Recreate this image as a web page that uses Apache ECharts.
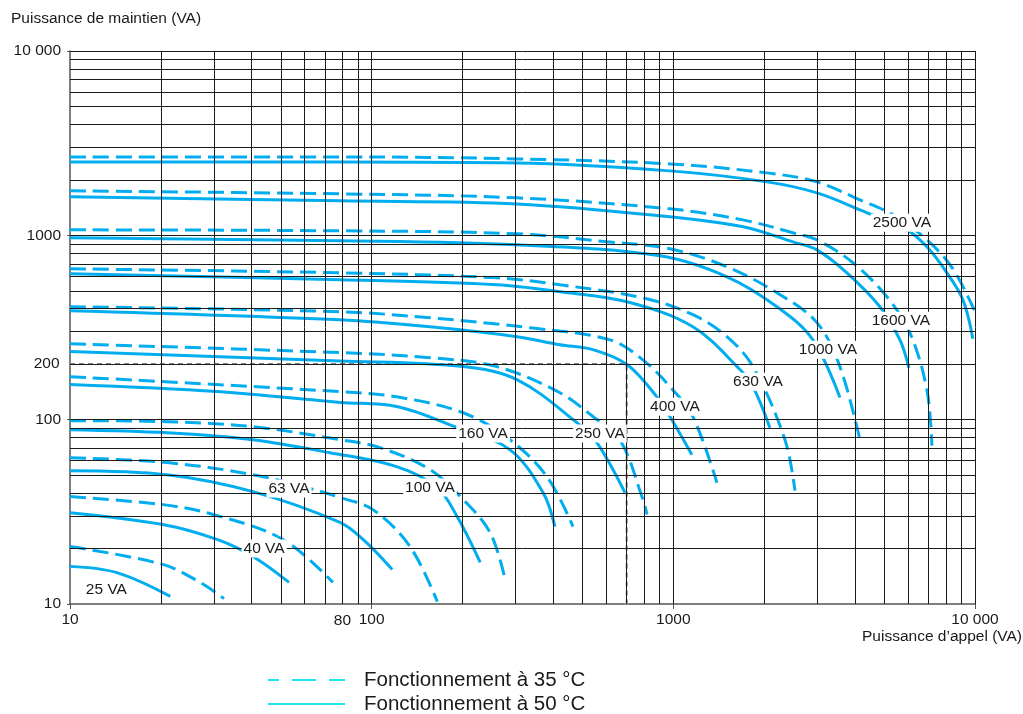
<!DOCTYPE html>
<html>
<head>
<meta charset="utf-8">
<title>Puissance de maintien / puissance d'appel</title>
<script src="https://cdn.jsdelivr.net/npm/echarts@6/dist/echarts.min.js"></script>
<style>
  html, body { margin: 0; padding: 0; background: #fff; }
  #chart { width: 1023px; height: 714px; }
</style>
</head>
<body>
<div id="chart"></div>
<script>
// points: [puissance d'appel (VA), puissance de maintien (VA)]
const va25_35 = [[10, 20.5], [20.3, 16.4], [27, 13.1], [32.4, 10.7]];
const va25_50 = [[10, 16], [14.3, 14.8], [21.5, 11]];
const va40_35 = [[10, 38.3], [20.3, 34.6], [29.8, 30.6], [50.8, 22.4], [74.4, 13.1]];
const va40_50 = [[10, 31.3], [20.3, 27], [30.7, 22.4], [40.4, 18.1], [53.2, 13.1]];
const va63_35 = [[10, 62.2], [21, 58.5], [40.4, 50.3], [62.5, 42.3], [78.5, 37.8], [101, 32.5], [134, 20.5], [165, 10.3]];
const va63_50 = [[10, 52.9], [21, 50.3], [40.4, 40.7], [78.5, 27.7], [93.6, 22.4], [117, 15.4]];
const va100_35 = [[10, 98.8], [21, 97.5], [40.4, 91.6], [78.5, 77.9], [106.5, 70.5], [156, 53.6], [201, 36.9], [247, 24.4], [277, 13.6]];
const va100_50 = [[10, 88.3], [21, 85], [40.4, 77.9], [72.7, 66.2], [121, 55.6], [165, 42.8], [192, 29.8], [229, 16.8]];
const va160_35 = [[10, 171], [78.5, 142], [121, 133], [201, 109], [287, 77.9], [381, 49.1], [465, 26.3]];
const va160_50 = [[10, 155], [30.7, 142], [78.5, 124], [121, 118], [192, 90.5], [287, 68.8], [370, 40.2], [405, 26.3]];
const va250_35 = [[10, 258], [78.5, 231], [156, 217], [260, 194], [421, 140], [541, 104], [665, 77.9], [793, 36.9], [818, 30.6]];
const va250_50 = [[10, 234], [78.5, 208], [201, 194], [303, 165], [479, 96.3], [558, 75], [691, 40.2]];
const va400_35 = [[10, 410], [78.5, 385], [156, 357], [335, 315], [617, 271], [793, 211], [997, 145], [1161, 104], [1395, 45.5]];
const va400_50 = [[10, 390], [78.5, 348], [156, 319], [303, 282], [421, 255], [541, 240], [702, 199], [882, 133], [974, 104], [1152, 64.6]];
const va630_35 = [[10, 658], [78.5, 626], [260, 588], [421, 539], [793, 458], [1161, 371], [1505, 282], [1836, 194], [2344, 77.9], [2530, 41.2]];
const va630_50 = [[10, 618], [78.5, 574], [260, 539], [421, 494], [702, 436], [1161, 319], [1663, 187], [1836, 151], [2090, 90.5]];
const va1000_35 = [[10, 1071], [78.5, 1058], [303, 1019], [603, 922], [974, 845], [1505, 675], [2205, 488], [2992, 336], [3566, 194], [4155, 77.9]];
const va1000_50 = [[10, 969], [78.5, 934], [303, 888], [903, 774], [1505, 596], [2205, 410], [2902, 271], [3566, 132]];
const va1600_35 = [[10, 1743], [78.5, 1679], [303, 1597], [974, 1392], [1701, 1213], [2491, 1032], [2992, 945], [3939, 710], [5105, 464], [6085, 296], [6928, 145], [7197, 72.3]];
const va1600_50 = [[10, 1617], [78.5, 1538], [303, 1481], [974, 1260], [1701, 1112], [2491, 922], [2992, 834], [3762, 626], [4839, 410], [5638, 271], [6039, 191]];
const va2500_35 = [[10, 2664], [78.5, 2664], [303, 2598], [974, 2441], [2043, 2182], [2992, 1950], [4155, 1557], [5345, 1292], [6928, 945], [8451, 658], [10000, 385]];
const va2500_50 = [[10, 2502], [78.5, 2502], [303, 2472], [974, 2237], [2043, 1950], [2992, 1700], [4155, 1375], [5948, 1071], [6928, 866], [8070, 626], [9118, 447], [9840, 275]];

const ratings = ['25 VA', '40 VA', '63 VA', '100 VA', '160 VA', '250 VA', '400 VA', '630 VA', '1000 VA', '1600 VA', '2500 VA'];
const ratingLabelAt = [[13.2, 12], [44, 20], [53.2, 42.3], [156, 42.8], [234, 84], [571, 84], [1012, 117.6], [1907, 160.7], [3254, 239.6], [5680, 344], [5723, 1169]];

// example reading: 700 VA d'appel -> 200 VA de maintien
const examplePath = [[10, 200], [700, 200], [700, 10]];

const gridX = [20, 30, 40, 50, 60, 70, 80, 90, 100, 200, 300, 400, 500, 600, 700, 800, 900, 1000,
  2000, 3000, 4000, 5000, 6000, 7000, 8000, 9000, 10000];
const gridY = [20, 30, 40, 50, 60, 70, 80, 90, 100, 200, 300, 400, 500, 600, 700, 800, 900, 1000,
  2000, 3000, 4000, 5000, 6000, 7000, 8000, 9000, 10000];
const extraLabels = [{ value: [80, 10], name: '80', pos: 'bottom' }, { value: [10, 200], name: '200', pos: 'left' }];

const legend35 = 'Fonctionnement à 35 °C';
const legend50 = 'Fonctionnement à 50 °C';

const FONT = '"Liberation Sans", Arial, Helvetica, sans-serif';
const TEXT = '#1a1a1a';
const CURVE = '#00AEEF';
const LEGEND_CYAN = '#1FE3EE';
const FS = 15.5;

const curves35 = [va25_35, va40_35, va63_35, va100_35, va160_35, va250_35, va400_35, va630_35, va1000_35, va1600_35, va2500_35];
const curves50 = [va25_50, va40_50, va63_50, va100_50, va160_50, va250_50, va400_50, va630_50, va1000_50, va1600_50, va2500_50];

const fmt = (v) => (v === 10000 ? '10 000' : String(v));

const series = [];

// grid lines
series.push({
  type: 'line',
  data: [[10, 10]],
  symbol: 'none',
  silent: true,
  z: 1,
  lineStyle: { width: 0 },
  markLine: {
    silent: true,
    symbol: ['none', 'none'],
    label: { show: false },
    emphasis: { disabled: true },
    lineStyle: { color: '#1c1c1c', width: 1, type: 'solid' },
    data: gridX.map((v) => ({ xAxis: v })).concat(gridY.map((v) => ({ yAxis: v })))
  }
});

// example dashed lines (white under so the grid doesn't show through the gaps)
series.push({
  type: 'line', data: examplePath, symbol: 'none', silent: true, z: 2,
  lineStyle: { color: '#fff', width: 2.5 }
});
series.push({
  type: 'line', data: examplePath, symbol: 'none', silent: true, z: 3,
  lineStyle: { color: '#000', width: 1.5, type: [5, 4] }
});

curves35.forEach((d) => {
  series.push({
    type: 'line', data: d, symbol: 'none', smooth: 0.35, silent: true, z: 4,
    lineStyle: { color: CURVE, width: 3, type: [16, 7] }
  });
});
curves50.forEach((d) => {
  series.push({
    type: 'line', data: d, symbol: 'none', smooth: 0.35, silent: true, z: 4,
    lineStyle: { color: CURVE, width: 3 }
  });
});

// curve labels
series.push({
  type: 'scatter', silent: true, z: 6, symbolSize: 1,
  itemStyle: { color: 'rgba(0,0,0,0)', opacity: 1 },
  data: ratingLabelAt.map((p, i) => ({ value: p, name: ratings[i] })),
  label: {
    show: true, position: 'inside', formatter: '{b}',
    backgroundColor: '#fff', padding: [1, 2],
    fontFamily: FONT, fontSize: FS, color: TEXT, opacity: 1
  }
});

// extra axis labels (80 and 200)
series.push({
  type: 'scatter', silent: true, z: 6, symbolSize: 1, clip: false,
  itemStyle: { color: 'rgba(0,0,0,0)', opacity: 1 },
  data: extraLabels.map((e) => ({
    value: e.value, name: e.name,
    label: { position: e.pos, distance: e.pos === 'left' ? 10 : 8, color: TEXT, opacity: 1 }
  })),
  label: { show: true, formatter: '{b}', fontFamily: FONT, fontSize: FS, color: TEXT, opacity: 1 }
});

// legend-only series
series.push({
  name: legend35, type: 'line', data: [], symbol: 'none',
  itemStyle: { color: LEGEND_CYAN },
  lineStyle: { color: LEGEND_CYAN, width: 2, type: [24, 13], dashOffset: 13 }
});
series.push({
  name: legend50, type: 'line', data: [], symbol: 'none',
  itemStyle: { color: LEGEND_CYAN },
  lineStyle: { color: LEGEND_CYAN, width: 2 }
});

const option = {
  animation: false,
  backgroundColor: '#fff',
  textStyle: { fontFamily: FONT },
  title: [
    {
      text: 'Puissance de maintien (VA)', left: 11, top: 11, padding: 0,
      textStyle: { fontFamily: FONT, fontSize: FS, fontWeight: 'normal', color: TEXT }
    },
    {
      text: 'Puissance d’appel (VA)', right: 1, top: 629, padding: 0,
      textStyle: { fontFamily: FONT, fontSize: FS, fontWeight: 'normal', color: TEXT }
    }
  ],
  legend: {
    orient: 'vertical', left: 267, top: 669, height: 60, padding: 0,
    itemWidth: 77, itemHeight: 22, itemGap: 2,
    itemStyle: { opacity: 0 },
    selectedMode: false,
    data: [legend35, legend50],
    textStyle: { fontFamily: FONT, fontSize: 20.5, lineHeight: 22, color: TEXT, padding: [0, 0, 0, 14] }
  },
  grid: { left: 70, right: 48, top: 51, bottom: 110, containLabel: false },
  xAxis: {
    type: 'log', logBase: 10, min: 10, max: 10000,
    axisLine: { show: true, lineStyle: { color: '#555', width: 1.5 } },
    axisTick: { show: true, length: 5, lineStyle: { color: '#555' } },
    axisLabel: { formatter: fmt, margin: 8, fontSize: FS, color: TEXT, fontFamily: FONT },
    splitLine: { show: false },
    minorTick: { show: false }
  },
  yAxis: {
    type: 'log', logBase: 10, min: 10, max: 10000,
    axisLine: { show: true, lineStyle: { color: '#555', width: 1.5 } },
    axisTick: { show: true, length: 3, lineStyle: { color: '#555' } },
    axisLabel: { formatter: fmt, margin: 9, fontSize: FS, color: TEXT, fontFamily: FONT },
    splitLine: { show: false }
  },
  series: series
};

const chart = echarts.init(document.getElementById('chart'), null, { renderer: 'canvas' });
chart.setOption(option);
</script>
</body>
</html>
